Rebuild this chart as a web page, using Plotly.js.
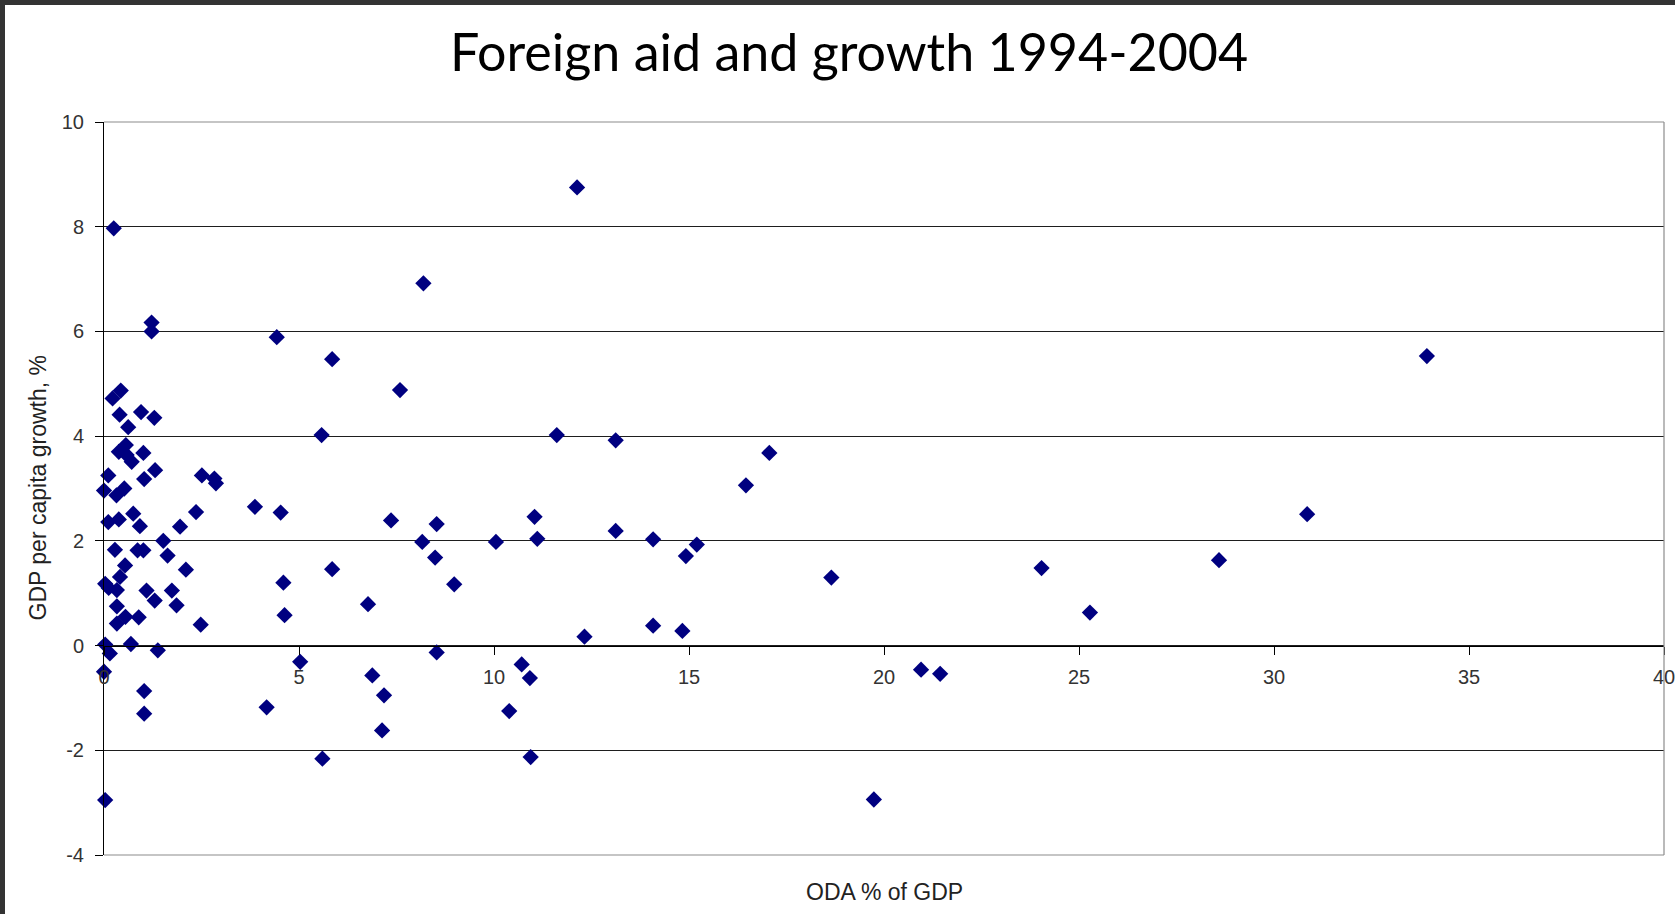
<!DOCTYPE html>
<html>
<head>
<meta charset="utf-8">
<script src="https://cdn.plot.ly/plotly-3.0.1.min.js"></script>
<style>
  html, body { margin: 0; padding: 0; background: #333333; width: 1675px; height: 914px; overflow: hidden; }
  #chart { position: absolute; left: 5px; top: 5px; width: 1670px; height: 909px; background: #ffffff; }
</style>
</head>
<body>
<div id="chart"></div>
<script>
// Official development assistance (% of GDP) per country, 1994-2004 average
const oda = [
  0.25, 1.22, 1.22, 4.43, 5.85, 7.59, 8.19, 12.13, 0.22, 0.43,
  0.40, 0.95, 1.29, 0.62, 5.58, 11.61, 13.12, 17.06, 16.46, 33.92,
  0.38, 0.56, 0.71, 0.58, 1.01, 1.31, 1.03, 0.11, 2.51, 2.83,
  2.87, 0.00, 0.32, 0.52,
  3.87, 4.53, 2.36, 0.75, 0.11, 0.38, 0.92, 1.95, 7.36, 8.53,
  11.04, 13.12, 14.08, 15.20, 14.92, 30.85,
  1.52, 8.16, 10.05, 11.11,
  0.28, 0.86, 1.01, 1.63, 8.49, 0.54, 2.10, 5.85, 0.41, 0.03,
  0.12, 0.33, 1.09, 1.74, 4.60, 8.98, 18.65, 24.04, 28.59,
  1.30, 1.86, 0.33, 6.77, 4.63, 0.55, 0.89, 0.33, 2.48, 25.28,
  14.08, 14.83, 12.32, 0.03, 0.69,
  0.15, 1.38, 8.53, 5.03, 0.00, 6.88, 10.71, 10.92, 20.95, 21.44,
  1.03, 7.18, 1.03, 4.17, 10.39, 7.13, 5.60, 10.94, 0.03, 19.74
];

// GDP per capita growth (%) for the same countries
const growth = [
  7.97, 6.17, 6.00, 5.89, 5.47, 4.88, 6.92, 8.75, 4.72, 4.87,
  4.41, 4.46, 4.35, 4.17, 4.02, 4.02, 3.92, 3.68, 3.06, 5.53,
  3.70, 3.83, 3.51, 3.64, 3.68, 3.35, 3.18, 3.25, 3.25, 3.19,
  3.10, 2.96, 2.87, 3.00,
  2.65, 2.54, 2.55, 2.52, 2.36, 2.41, 2.28, 2.27, 2.39, 2.32,
  2.46, 2.19, 2.03, 1.93, 1.71, 2.51,
  2.00, 1.98, 1.98, 2.04,
  1.83, 1.82, 1.82, 1.72, 1.68, 1.53, 1.45, 1.46, 1.31, 1.18,
  1.10, 1.06, 1.05, 1.05, 1.20, 1.17, 1.30, 1.48, 1.63,
  0.86, 0.77, 0.75, 0.79, 0.58, 0.55, 0.54, 0.42, 0.40, 0.63,
  0.38, 0.28, 0.17, 0.02, 0.03,
  -0.15, -0.09, -0.13, -0.31, -0.50, -0.57, -0.36, -0.62, -0.46, -0.54,
  -0.87, -0.95, -1.30, -1.18, -1.25, -1.62, -2.16, -2.13, -2.95, -2.94
];

const xTicks = [0, 5, 10, 15, 20, 25, 30, 35, 40];
const yTicks = [-4, -2, 0, 2, 4, 6, 8, 10];

const chartTitle = 'Foreign aid and growth 1994-2004';
const xTitle = 'ODA % of GDP';
const yTitle = 'GDP per capita growth, %';

const tickFont = { family: 'Liberation Sans, Arial, sans-serif', size: 20, color: '#333333' };
const axisTitleFont = { family: 'Liberation Sans, Arial, sans-serif', size: 23, color: '#222222' };

const trace = {
  type: 'scatter',
  mode: 'markers',
  x: oda,
  y: growth,
  cliponaxis: false,
  marker: { symbol: 'diamond', size: 12.5, color: '#000080', line: { width: 0 } },
  hoverinfo: 'skip'
};

const layout = {
  width: 1670,
  height: 909,
  margin: { l: 99, r: 11, t: 117, b: 59 },
  paper_bgcolor: '#ffffff',
  plot_bgcolor: '#ffffff',
  showlegend: false,
  title: {
    text: chartTitle,
    font: { family: 'Lato, Open Sans, sans-serif', size: 52, color: '#000000' },
    xref: 'container', x: 0.5054, xanchor: 'center',
    yref: 'container', y: 0.947, yanchor: 'middle'
  },
  xaxis: {
    range: [0, 40],
    tickvals: xTicks,
    ticktext: xTicks.map(String),
    anchor: 'free',
    position: 4 / 14,
    showline: true, linecolor: '#000000', linewidth: 1,
    ticks: 'outside', ticklen: 8, tickwidth: 1, tickcolor: '#000000',
    ticklabelstandoff: 5,
    ticklabeloverflow: 'allow',
    tickfont: tickFont,
    showgrid: false, zeroline: false, fixedrange: true
  },
  yaxis: {
    range: [-4, 10],
    tickvals: yTicks,
    ticktext: yTicks.map(String),
    showline: true, linecolor: '#000000', linewidth: 1,
    ticks: 'outside', ticklen: 8, tickwidth: 1, tickcolor: '#000000',
    ticklabelstandoff: 7,
    tickfont: tickFont,
    showgrid: true, gridcolor: '#1e1e1e', gridwidth: 1.2,
    zeroline: false, fixedrange: true
  },
  shapes: [
    // plot-area frame (light grey on top, right and bottom)
    { type: 'line', xref: 'paper', yref: 'paper', x0: 0, x1: 1, y0: 1, y1: 1, line: { color: '#8c8c8c', width: 1.2 }, layer: 'above' },
    { type: 'line', xref: 'paper', yref: 'paper', x0: 1, x1: 1, y0: 0, y1: 1, line: { color: '#8c8c8c', width: 1.2 }, layer: 'above' },
    { type: 'line', xref: 'paper', yref: 'paper', x0: 0, x1: 1, y0: 0, y1: 0, line: { color: '#8c8c8c', width: 1.2 }, layer: 'above' }
  ],
  annotations: [
    {
      text: yTitle, textangle: -90, showarrow: false,
      xref: 'paper', yref: 'paper', x: -67 / 1560, y: 0.5,
      xanchor: 'center', yanchor: 'middle', font: axisTitleFont
    },
    {
      text: xTitle, showarrow: false,
      xref: 'paper', yref: 'paper', x: 0.5006, y: -0.051,
      xanchor: 'center', yanchor: 'middle', font: axisTitleFont
    }
  ]
};

Plotly.newPlot('chart', [trace], layout, { staticPlot: true, displayModeBar: false });
</script>
</body>
</html>
